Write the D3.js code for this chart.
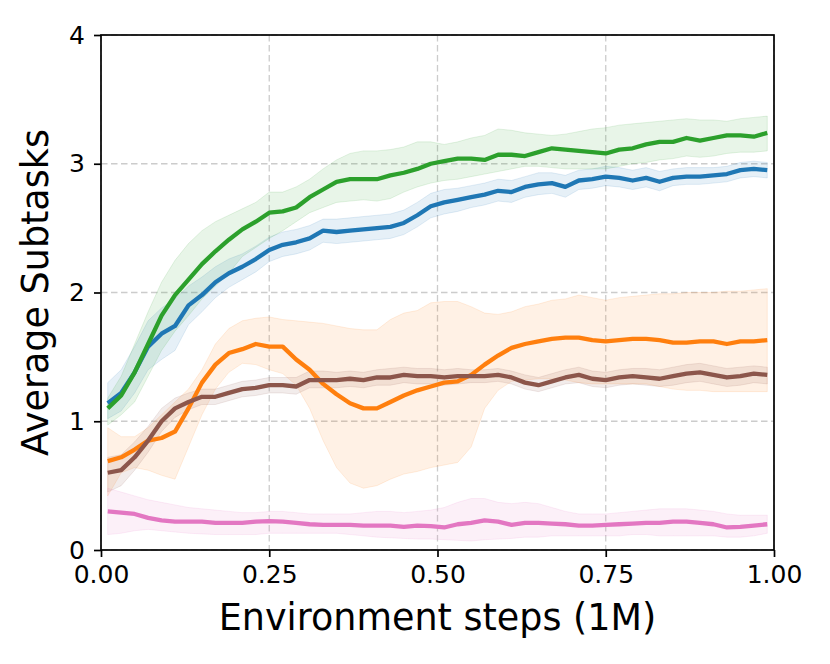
<!DOCTYPE html>
<html>
<head>
<meta charset="utf-8">
<script src="https://cdn.jsdelivr.net/npm/d3@7"></script>
<style>
  body { margin: 0; background: #fff; }
  svg { font-family: "DejaVu Sans", sans-serif; }
</style>
</head>
<body>
<div id="chart"></div>
<script>
// x positions of the logged points (fraction of 1M steps)
const steps = d3.range(50).map(i => +(0.01 + 0.02 * i).toFixed(2));

const xTicks = [0, 0.25, 0.5, 0.75, 1];
const yTicks = [0, 1, 2, 3, 4];

// blue
const blueMean = [1.14,1.22,1.38,1.58,1.68,1.74,1.90,1.98,2.08,2.15,2.20,2.26,2.33,2.37,2.39,2.42,2.48,2.47,2.48,2.49,2.50,2.51,2.54,2.60,2.67,2.70,2.72,2.74,2.76,2.79,2.78,2.82,2.84,2.85,2.82,2.87,2.88,2.90,2.89,2.87,2.89,2.86,2.89,2.90,2.90,2.91,2.92,2.95,2.96,2.95];
const blueHi = [1.30,1.40,1.58,1.78,1.88,1.95,2.05,2.12,2.20,2.26,2.30,2.36,2.43,2.47,2.49,2.52,2.57,2.57,2.58,2.59,2.60,2.61,2.64,2.70,2.77,2.80,2.81,2.83,2.85,2.88,2.87,2.90,2.93,2.93,2.91,2.95,2.96,2.98,2.97,2.95,2.97,2.94,2.96,2.97,2.97,2.97,2.98,3.01,3.02,3.01];
const blueLo = [1.02,1.08,1.22,1.40,1.48,1.55,1.75,1.85,1.96,2.04,2.10,2.16,2.24,2.28,2.30,2.33,2.39,2.38,2.39,2.40,2.41,2.42,2.45,2.51,2.58,2.61,2.63,2.66,2.68,2.71,2.70,2.74,2.76,2.77,2.74,2.80,2.81,2.83,2.82,2.80,2.82,2.79,2.83,2.84,2.84,2.85,2.86,2.89,2.90,2.89];

// orange
const orangeMean = [0.69,0.72,0.78,0.85,0.87,0.92,1.10,1.30,1.44,1.53,1.56,1.60,1.58,1.58,1.48,1.40,1.29,1.21,1.14,1.10,1.10,1.15,1.20,1.24,1.27,1.30,1.31,1.36,1.44,1.51,1.57,1.60,1.62,1.64,1.65,1.65,1.63,1.62,1.63,1.64,1.64,1.63,1.61,1.61,1.62,1.62,1.60,1.62,1.62,1.63];
const orangeHi = [0.95,0.88,0.88,0.95,1.05,1.15,1.25,1.40,1.60,1.72,1.78,1.80,1.81,1.79,1.78,1.77,1.76,1.74,1.72,1.71,1.71,1.79,1.84,1.86,1.92,1.93,1.93,1.89,1.84,1.83,1.85,1.89,1.91,1.94,1.95,1.98,1.96,1.94,1.96,1.97,1.98,1.99,1.99,2.00,2.00,2.00,2.01,2.01,2.02,2.03];
const orangeLo = [0.42,0.60,0.64,0.62,0.58,0.55,0.80,1.05,1.25,1.38,1.45,1.44,1.40,1.37,1.28,1.10,0.85,0.64,0.52,0.48,0.50,0.55,0.59,0.61,0.64,0.66,0.68,0.80,1.10,1.24,1.31,1.32,1.33,1.33,1.32,1.30,1.29,1.29,1.29,1.29,1.29,1.27,1.25,1.24,1.24,1.23,1.23,1.23,1.23,1.23];

// green
const greenMean = [1.10,1.20,1.38,1.60,1.82,1.98,2.10,2.22,2.32,2.41,2.49,2.55,2.62,2.63,2.66,2.74,2.80,2.86,2.88,2.88,2.88,2.91,2.93,2.96,3.00,3.02,3.04,3.04,3.03,3.07,3.07,3.06,3.09,3.12,3.11,3.10,3.09,3.08,3.11,3.12,3.15,3.17,3.17,3.20,3.18,3.20,3.22,3.22,3.21,3.24];
const greenHi = [1.18,1.35,1.60,1.85,2.08,2.25,2.38,2.48,2.55,2.60,2.65,2.70,2.78,2.78,2.82,2.88,2.96,3.03,3.08,3.10,3.10,3.11,3.13,3.17,3.17,3.15,3.17,3.20,3.22,3.27,3.26,3.24,3.23,3.22,3.23,3.25,3.27,3.28,3.30,3.31,3.32,3.33,3.34,3.35,3.34,3.34,3.33,3.35,3.36,3.37];
const greenLo = [0.97,1.05,1.15,1.35,1.55,1.70,1.82,1.95,2.05,2.15,2.28,2.35,2.42,2.48,2.55,2.62,2.66,2.70,2.71,2.72,2.71,2.73,2.78,2.82,2.85,2.87,2.88,2.90,2.92,2.94,2.96,2.98,2.98,2.97,2.96,2.96,2.96,2.96,2.98,3.00,3.01,3.03,3.04,3.06,3.05,3.06,3.08,3.09,3.09,3.10];

// brown
const brownMean = [0.60,0.62,0.72,0.85,1.00,1.10,1.15,1.19,1.19,1.22,1.25,1.26,1.28,1.28,1.27,1.32,1.32,1.32,1.33,1.32,1.34,1.34,1.36,1.35,1.35,1.34,1.35,1.35,1.35,1.36,1.34,1.30,1.28,1.31,1.34,1.36,1.33,1.32,1.34,1.35,1.34,1.33,1.35,1.37,1.38,1.36,1.34,1.35,1.37,1.36];
const brownHi = [0.72,0.74,0.84,0.96,1.10,1.18,1.22,1.25,1.25,1.28,1.31,1.32,1.34,1.34,1.34,1.39,1.39,1.38,1.39,1.38,1.40,1.41,1.42,1.41,1.41,1.40,1.41,1.40,1.40,1.41,1.39,1.36,1.34,1.37,1.40,1.42,1.39,1.38,1.40,1.41,1.41,1.40,1.42,1.44,1.45,1.43,1.41,1.42,1.43,1.42];
const brownLo = [0.45,0.50,0.62,0.76,0.92,1.03,1.09,1.13,1.13,1.16,1.19,1.20,1.22,1.22,1.21,1.26,1.26,1.26,1.27,1.26,1.28,1.28,1.30,1.29,1.29,1.28,1.29,1.30,1.30,1.31,1.29,1.25,1.23,1.26,1.29,1.30,1.27,1.26,1.28,1.29,1.28,1.27,1.28,1.30,1.31,1.29,1.27,1.28,1.30,1.29];

// pink
const pinkMean = [0.30,0.29,0.28,0.25,0.23,0.22,0.22,0.22,0.21,0.21,0.21,0.22,0.225,0.22,0.21,0.20,0.195,0.195,0.195,0.19,0.19,0.19,0.18,0.19,0.185,0.175,0.20,0.21,0.23,0.22,0.195,0.21,0.21,0.205,0.20,0.19,0.19,0.195,0.20,0.205,0.21,0.21,0.22,0.22,0.21,0.20,0.175,0.18,0.19,0.20];
const pinkHi = [0.48,0.45,0.42,0.39,0.37,0.35,0.33,0.32,0.31,0.30,0.29,0.29,0.30,0.30,0.29,0.28,0.28,0.28,0.28,0.29,0.30,0.30,0.29,0.30,0.31,0.33,0.37,0.40,0.40,0.37,0.36,0.37,0.36,0.33,0.30,0.28,0.28,0.28,0.29,0.30,0.31,0.32,0.32,0.32,0.31,0.30,0.28,0.27,0.27,0.27];
const pinkLo = [0.12,0.13,0.15,0.16,0.15,0.14,0.13,0.125,0.12,0.12,0.12,0.12,0.13,0.13,0.13,0.13,0.13,0.13,0.12,0.11,0.10,0.095,0.09,0.085,0.085,0.08,0.075,0.07,0.08,0.085,0.09,0.10,0.10,0.11,0.11,0.11,0.11,0.11,0.11,0.12,0.12,0.11,0.11,0.11,0.11,0.11,0.10,0.10,0.11,0.13];

const series = [
  { color: '#1f77b4', mean: blueMean, hi: blueHi, lo: blueLo },
  { color: '#ff7f0e', mean: orangeMean, hi: orangeHi, lo: orangeLo },
  { color: '#2ca02c', mean: greenMean, hi: greenHi, lo: greenLo },
  { color: '#8c564b', mean: brownMean, hi: brownHi, lo: brownLo },
  { color: '#e377c2', mean: pinkMean, hi: pinkHi, lo: pinkLo }
];

const margin = { top: 35, right: 56, bottom: 114, left: 101 };
const W = 830, H = 664;
const width = W - margin.left - margin.right;
const height = H - margin.top - margin.bottom;

const svg = d3.select('#chart').append('svg')
  .attr('width', W)
  .attr('height', H);

const g = svg.append('g')
  .attr('transform', `translate(${margin.left},${margin.top})`);

const xScale = d3.scaleLinear().domain([0, 1]).range([0, width]);
const yScale = d3.scaleLinear().domain([0, 4]).range([height, 0]);

// grid
g.append('g').selectAll('line.gx')
  .data(xTicks)
  .join('line')
  .attr('x1', d => xScale(d)).attr('x2', d => xScale(d))
  .attr('y1', 0).attr('y2', height)
  .attr('stroke', '#cccccc').attr('stroke-width', 1.3)
  .attr('stroke-dasharray', '6.5,3.5');

g.append('g').selectAll('line.gy')
  .data(yTicks)
  .join('line')
  .attr('y1', d => yScale(d)).attr('y2', d => yScale(d))
  .attr('x1', 0).attr('x2', width)
  .attr('stroke', '#cccccc').attr('stroke-width', 1.3)
  .attr('stroke-dasharray', '6.5,3.5');

// bands and lines
svg.append('clipPath').attr('id', 'plot-clip')
  .append('rect').attr('width', width).attr('height', height);

const marks = g.append('g').attr('clip-path', 'url(#plot-clip)');

series.forEach(s => {
  const rows = steps.map((x, i) => ({ x, hi: s.hi[i], lo: s.lo[i] }));
  const area = d3.area()
    .x(d => xScale(d.x))
    .y0(d => yScale(d.lo))
    .y1(d => yScale(d.hi));
  marks.append('path')
    .datum(rows)
    .attr('d', area)
    .attr('fill', s.color)
    .attr('fill-opacity', 0.11)
    .attr('stroke', s.color)
    .attr('stroke-opacity', 0.12)
    .attr('stroke-width', 1);
});

series.forEach(s => {
  const rows = steps.map((x, i) => ({ x, m: s.mean[i] }));
  const line = d3.line()
    .x(d => xScale(d.x))
    .y(d => yScale(d.m));
  marks.append('path')
    .datum(rows)
    .attr('d', line)
    .attr('fill', 'none')
    .attr('stroke', s.color)
    .attr('stroke-width', 4.3)
    .attr('stroke-linejoin', 'round')
    .attr('stroke-linecap', 'butt');
});

// axes
const xAxis = d3.axisBottom(xScale)
  .tickValues(xTicks)
  .tickFormat(d3.format('.2f'))
  .tickSize(7)
  .tickPadding(8)
  .tickSizeOuter(0);

const yAxis = d3.axisLeft(yScale)
  .tickValues(yTicks)
  .tickFormat(d3.format('d'))
  .tickSize(7)
  .tickPadding(9)
  .tickSizeOuter(0);

const gx = g.append('g')
  .attr('transform', `translate(0,${height})`)
  .call(xAxis);
const gy = g.append('g').call(yAxis);

[gx, gy].forEach(ax => {
  ax.select('.domain').remove();
  ax.selectAll('line').attr('stroke', '#000').attr('stroke-width', 1.7);
  ax.selectAll('text')
    .attr('fill', '#000')
    .style('font-size', '25px')
    .style('font-family', '"DejaVu Sans", sans-serif');
});

// frame
g.append('rect')
  .attr('width', width).attr('height', height)
  .attr('fill', 'none')
  .attr('stroke', '#000')
  .attr('stroke-width', 1.7);

// labels
svg.append('text')
  .attr('x', margin.left + width / 2)
  .attr('y', 630)
  .attr('text-anchor', 'middle')
  .style('font-size', '36.5px')
  .text('Environment steps (1M)');

svg.append('text')
  .attr('transform', `translate(48,${margin.top + height / 2}) rotate(-90)`)
  .attr('text-anchor', 'middle')
  .style('font-size', '36.5px')
  .text('Average Subtasks');
</script>
</body>
</html>
